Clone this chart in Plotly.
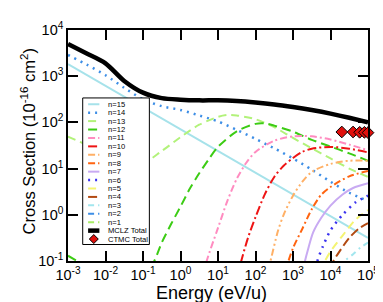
import plotly.graph_objects as go

# ---------------- data (energies in eV/u, cross sections in 1e-16 cm^2) ----------------
E_MCLZ = [1e-3, 3.16e-3, 1e-2, 3.16e-2, 0.1, 0.316, 1, 3.16, 10, 31.6, 100, 316, 1000, 3160, 1e4, 3.16e4, 1e5]
SIG_MCLZ = [5000, 3100, 1900, 790, 440, 335, 310, 300, 300, 290, 270, 245, 215, 185, 155, 126, 100]

E_CTMC = [2e4, 4e4, 6e4, 8e4, 1e5]
SIG_CTMC = [62, 62, 61, 61, 60]

E_N15 = [1e-3, 1e5]
SIG_N15 = [1820, 0.316]

E_N14 = [1e-3, 3.16e-3, 1e-2, 3.16e-2, 0.1, 0.316, 1, 3.16, 10, 31.6, 100, 316, 1000, 3160, 1e4, 3.16e4, 1e5]
SIG_N14 = [2880, 1780, 1050, 560, 316, 224, 186, 141, 105, 69, 44, 27.5, 16.6, 9.5, 5.2, 3.0, 2.0]

E_N13 = [1e-3, 3.16e-3, 1e-2, 3.16e-2, 0.1, 0.316, 1, 3.16, 10, 17.8, 31.6, 100, 316, 1000, 3160, 1e4, 3.16e4, 1e5]
SIG_N13 = [49, 33, 23, 15.5, 13.2, 24, 48, 89, 132, 145, 141, 117, 79, 46, 27.5, 16.6, 10, 6.6]

E_N12 = [1e-3, 3.16e-3, 1e-2, 3.16e-2, 0.1, 0.2, 0.316, 0.562, 1, 1.78, 3.16, 5.62, 10, 31.6, 100, 178, 316, 1000, 3160, 1e4, 3.16e4, 1e5]
SIG_N12 = [0.13, 0.076, 0.045, 0.03, 0.04, 0.1, 0.25, 0.63, 1.5, 3.7, 7.9, 15.8, 29.5, 64, 93, 95, 85, 63, 42, 30, 21.4, 14.8]

E_N11 = [3.98, 5.0, 10, 17.8, 31.6, 56.2, 100, 316, 1000, 3160, 1e4, 3.16e4, 1e5]
SIG_N11 = [0.045, 0.1, 0.52, 2.0, 6.0, 13.2, 23, 40, 50, 50, 42.7, 33, 25]

E_N10 = [31.6, 41.7, 63, 100, 178, 316, 562, 1000, 1778, 3160, 1e4, 3.16e4, 1e5]
SIG_N10 = [0.04, 0.1, 0.316, 0.89, 2.8, 6.6, 11.5, 17, 23, 27, 29.5, 27, 22.4]

E_N9 = [200, 251, 398, 562, 1000, 1778, 3160, 1e4, 3.16e4, 1e5]
SIG_N9 = [0.05, 0.1, 0.45, 1.0, 2.6, 5.2, 8.5, 12.6, 14.8, 14.8]

E_N8 = [631, 759, 1000, 1778, 3160, 5623, 1e4, 3.16e4, 1e5]
SIG_N8 = [0.05, 0.1, 0.19, 0.5, 1.32, 2.7, 4.0, 6.8, 8.9]

E_N7 = [1778, 2089, 2512, 3467, 5623, 1e4, 2.1e4, 4e4, 1e5]
SIG_N7 = [0.05, 0.1, 0.178, 0.42, 0.85, 1.58, 2.75, 3.8, 4.8]

E_N6 = [3802, 4467, 6310, 1e4, 2.1e4, 4.7e4, 1e5]
SIG_N6 = [0.05, 0.1, 0.21, 0.46, 1.0, 1.86, 2.6]

E_N5 = [5012, 7080, 1e4, 2.1e4, 4.7e4, 1e5]
SIG_N5 = [0.06, 0.1, 0.16, 0.355, 0.79, 1.26]

E_N4 = [1e4, 1.2e4, 1.78e4, 3.16e4, 5.62e4, 1e5]
SIG_N4 = [0.07, 0.1, 0.166, 0.316, 0.5, 0.66]

E_N3 = [2e4, 2.4e4, 4e4, 6.3e4, 1e5]
SIG_N3 = [0.07, 0.1, 0.14, 0.195, 0.25]

E_N2 = [3.16e4, 1e5]
SIG_N2 = [0.03, 0.06]

E_N1 = [5e4, 1e5]
SIG_N1 = [0.02, 0.035]

X_TICKS = [1e-3, 1e-2, 1e-1, 1, 10, 100, 1e3, 1e4, 1e5]
X_TICK_LABELS = ["10<sup>-3</sup>", "10<sup>-2</sup>", "10<sup>-1</sup>", "10<sup>0</sup>", "10<sup>1</sup>",
                 "10<sup>2</sup>", "10<sup>3</sup>", "10<sup>4</sup>", "10<sup>5</sup>"]
Y_TICKS = [0.1, 1, 10, 100, 1e3, 1e4]
Y_TICK_LABELS = ["10<sup>-1</sup>", "10<sup>0</sup>", "10<sup>1</sup>", "10<sup>2</sup>", "10<sup>3</sup>", "10<sup>4</sup>"]

X_TITLE = "Energy (eV/u)"
Y_TITLE = "Cross Section (10<sup>-16</sup> cm<sup>2</sup>)"

# ---------------- styles ----------------
SERIES = [
    ("n=15", E_N15, SIG_N15, "#a6e2ea", "solid", 2),
    ("n=14", E_N14, SIG_N14, "#3d8ee6", "2px,5px", 2.5),
    ("n=13", E_N13, SIG_N13, "#b2f27a", "8px,5px", 2),
    ("n=12", E_N12, SIG_N12, "#3ccc14", "9px,5px", 2),
    ("n=11", E_N11, SIG_N11, "#ff8cc0", "7px,3px,2px,3px", 2),
    ("n=10", E_N10, SIG_N10, "#ee1414", "9px,3px,2px,3px", 2),
    ("n=9", E_N9, SIG_N9, "#ffb066", "7px,3px,2px,3px,2px,3px", 2),
    ("n=8", E_N8, SIG_N8, "#ff6410", "7px,3px,2px,3px", 2),
    ("n=7", E_N7, SIG_N7, "#c8aaf2", "solid", 2),
    ("n=6", E_N6, SIG_N6, "#3a32f0", "2px,5px", 2.5),
    ("n=5", E_N5, SIG_N5, "#f4f472", "8px,5px", 2),
    ("n=4", E_N4, SIG_N4, "#b24a12", "9px,4px", 2),
    ("n=3", E_N3, SIG_N3, "#a2e6ee", "6px,4px,2px,4px", 2),
    ("n=2", E_N2, SIG_N2, "#3d8ee6", "6px,4px", 2),
    ("n=1", E_N1, SIG_N1, "#a8ee66", "6px,4px", 2),
]

FONT = "Liberation Sans, Arial, Helvetica, sans-serif"
PLOT_L, PLOT_R, PLOT_T, PLOT_B = 60, 366, 15, 253
W, H = 383, 302


def fx(px):
    return (px - PLOT_L) / (PLOT_R - PLOT_L)


def fy(py):
    return (PLOT_B - py) / (PLOT_B - PLOT_T)


fig = go.Figure()

for name, xs, ys, color, dash, lw in SERIES:
    fig.add_trace(go.Scatter(x=xs, y=ys, mode="lines", name=name,
                             line=dict(color=color, dash=dash, width=lw, shape="spline", smoothing=0.8),
                             showlegend=False))

fig.add_trace(go.Scatter(x=E_MCLZ, y=SIG_MCLZ, mode="lines", name="MCLZ Total",
                         line=dict(color="black", width=4.5, shape="spline", smoothing=0.8),
                         showlegend=False))
fig.add_trace(go.Scatter(x=E_CTMC, y=SIG_CTMC, mode="markers", name="CTMC Total",
                         marker=dict(symbol="diamond", size=9, color="#e0100c",
                                     line=dict(color="black", width=1)),
                         showlegend=False, cliponaxis=False))

# ---------------- manual legend ----------------
LEG_L, LEG_R, LEG_T, LEG_B = 75, 143, 85, 236
ROW0, ROW_DY = 91.5, 8.68
SW_X0, SW_X1, TXT_X = 80.5, 92, 98.5
LEG_FONT = 7.6

shapes = [dict(type="rect", xref="paper", yref="paper", x0=fx(LEG_L), x1=fx(LEG_R), y0=fy(LEG_B), y1=fy(LEG_T),
               line=dict(color="black", width=1), fillcolor="white", layer="above")]
annotations = []
legend_items = [(s[0], s[3], s[4], s[5]) for s in SERIES] + [("MCLZ Total", "black", "solid", 4.5)]
for i, (name, color, dash, lw) in enumerate(legend_items):
    py = ROW0 + i * ROW_DY
    shapes.append(dict(type="line", xref="paper", yref="paper", x0=fx(SW_X0), x1=fx(SW_X1), y0=fy(py), y1=fy(py),
                       line=dict(color=color, dash=dash, width=lw), layer="above"))
    annotations.append(dict(xref="paper", yref="paper", x=fx(TXT_X), y=fy(py), text=name, showarrow=False,
                            xanchor="left", yanchor="middle", font=dict(family=FONT, size=LEG_FONT, color="black")))
# CTMC legend row
py = ROW0 + len(legend_items) * ROW_DY
cx, r = 86.3, 4.6
path = "M {},{} L {},{} L {},{} L {},{} Z".format(fx(cx - r), fy(py), fx(cx), fy(py - r), fx(cx + r), fy(py), fx(cx), fy(py + r))
shapes.append(dict(type="path", xref="paper", yref="paper", path=path, fillcolor="#e0100c",
                   line=dict(color="black", width=1), layer="above"))
annotations.append(dict(xref="paper", yref="paper", x=fx(TXT_X), y=fy(py), text="CTMC Total", showarrow=False,
                        xanchor="left", yanchor="middle", font=dict(family=FONT, size=LEG_FONT, color="black")))

# axis titles as annotations for exact placement
annotations.append(dict(xref="paper", yref="paper", x=fx(206), y=fy(286), text=X_TITLE, showarrow=False,
                        xanchor="center", yanchor="middle", font=dict(family=FONT, size=18, color="black")))
annotations.append(dict(xref="paper", yref="paper", x=fx(19), y=fy(130), text=Y_TITLE, showarrow=False,
                        textangle=-90, xanchor="center", yanchor="middle",
                        font=dict(family=FONT, size=16.5, color="black")))

axis_common = dict(showline=True, linecolor="black", linewidth=1.5, mirror="ticks", ticks="inside",
                   ticklen=10, tickwidth=1.5, tickcolor="black", showgrid=False, zeroline=False,
                   tickfont=dict(family=FONT, size=14.5, color="black"))

fig.update_layout(
    width=W, height=H,
    margin=dict(l=PLOT_L, r=W - PLOT_R, t=PLOT_T, b=H - PLOT_B),
    paper_bgcolor="white", plot_bgcolor="white",
    font=dict(family=FONT, color="black"),
    xaxis=dict(type="log", range=[-3, 5], tickvals=X_TICKS, ticktext=X_TICK_LABELS, **axis_common),
    yaxis=dict(type="log", range=[-1, 4], tickvals=Y_TICKS, ticktext=Y_TICK_LABELS, **axis_common),
    shapes=shapes, annotations=annotations, showlegend=False,
)

fig.write_html("out.html")
